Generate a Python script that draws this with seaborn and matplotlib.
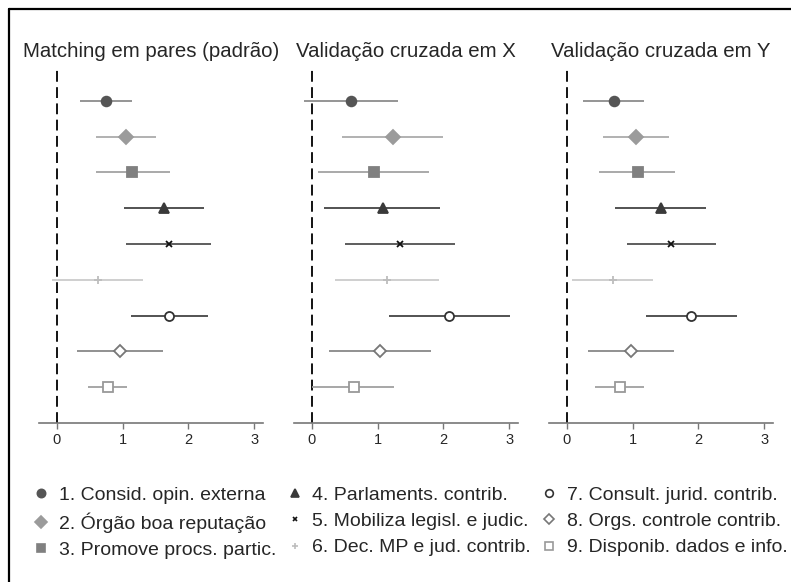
import numpy as np
import seaborn as sns
import matplotlib.pyplot as plt
from matplotlib.lines import Line2D

# Estimates and confidence intervals
labels = ['1. Consid. opin. externa', '2. Órgão boa reputação', '3. Promove procs. partic.',
          '4. Parlaments. contrib.', '5. Mobiliza legisl. e judic.', '6. Dec. MP e jud. contrib.',
          '7. Consult. jurid. contrib.', '8. Orgs. controle contrib.', '9. Disponib. dados e info.']
titles = ['Matching em pares (padrão)', 'Validação cruzada em X', 'Validação cruzada em Y']

est_pares = [0.75, 1.05, 1.15, 1.63, 1.70, 0.62, 1.71, 0.96, 0.78]
lo_pares = [0.35, 0.60, 0.59, 1.02, 1.05, -0.07, 1.12, 0.31, 0.48]
hi_pares = [1.15, 1.50, 1.72, 2.24, 2.35, 1.31, 2.30, 1.62, 1.07]

est_x = [0.60, 1.23, 0.94, 1.08, 1.34, 1.14, 2.09, 1.04, 0.64]
lo_x = [-0.12, 0.46, 0.10, 0.19, 0.51, 0.35, 1.17, 0.26, 0.01]
hi_x = [1.31, 1.99, 1.78, 1.95, 2.17, 1.93, 3.01, 1.81, 1.25]

est_y = [0.72, 1.05, 1.08, 1.43, 1.59, 0.70, 1.88, 0.98, 0.81]
lo_y = [0.25, 0.55, 0.49, 0.74, 0.92, 0.08, 1.20, 0.33, 0.43]
hi_y = [1.18, 1.55, 1.65, 2.12, 2.26, 1.31, 2.58, 1.63, 1.18]

xticks = [0, 1, 2, 3]

# marker styles per item
markers = ['o', 'D', 's', '^', 'x', '+', 'o', 'D', 's']
msizes = [7, 7, 7, 7.5, 4, 5.5, 6.5, 6.5, 6.5]
mcolors = ['#555555', '#9b9b9b', '#808080', '#3a3a3a', '#111111', '#bdbdbd', '#333333', '#777777', '#999999']
lcolors = ['#8c8c8c', '#ababab', '#a3a3a3', '#444444', '#505050', '#cccccc', '#444444', '#888888', '#a0a0a0']
filled = [True, True, True, True, True, True, False, False, False]

sns.set_style("white")
plt.rcParams['font.family'] = ['Liberation Sans', 'DejaVu Sans']

fig = plt.figure(figsize=(7.91, 5.82), dpi=100)
lefts = [0.0493, 0.3717, 0.694]
panels = [(est_pares, lo_pares, hi_pares), (est_x, lo_x, hi_x), (est_y, lo_y, hi_y)]
rows = np.arange(1, 10)

for left, title, (est, lo, hi) in zip(lefts, titles, panels):
    ax = fig.add_axes([left, 0.2732, 0.283, 0.61])
    ax.axvline(0, color='black', lw=1.3, ls=(0, (6, 3)), zorder=1)
    for i in range(9):
        ax.hlines(rows[i], lo[i], hi[i], color=lcolors[i], lw=1.3, zorder=2)
        ax.plot(est[i], rows[i], marker=markers[i], ms=msizes[i], ls='none',
                color=mcolors[i], mec=mcolors[i],
                mfc=mcolors[i] if filled[i] else 'white',
                mew=1.3, zorder=3)
    ax.set_xlim(-0.27, 3.13)
    ax.set_ylim(10.0, 0.08)
    ax.set_yticks([])
    ax.set_xticks(xticks)
    ax.tick_params(axis='x', bottom=True, length=4, width=1, color='#777777',
                   labelsize=10.5, pad=3)
    sns.despine(ax=ax, left=True)
    ax.spines['bottom'].set_color('#777777')
    ax.spines['bottom'].set_linewidth(1.2)
    ax.set_title(title, fontsize=14.7, pad=8)

handles = []
for i in range(9):
    handles.append(Line2D([], [], marker=markers[i], ls='none', ms=msizes[i] * 0.85,
                          color=mcolors[i], mec=mcolors[i],
                          mfc=mcolors[i] if filled[i] else 'white', mew=1.2))
fig.legend(handles, labels, ncol=3, loc='center', bbox_to_anchor=(0.519, 0.102),
           frameon=False, fontsize=14, handlelength=0.8, handletextpad=0.5,
           columnspacing=0.55, labelspacing=0.45)

# frame edges of the original screenshot
fig.add_artist(Line2D([0.0115, 0.0115], [0, 0.984], color='black', lw=1.6))
fig.add_artist(Line2D([0.0115, 1], [0.984, 0.984], color='black', lw=1.6))

fig.savefig("out.png", dpi=100)
